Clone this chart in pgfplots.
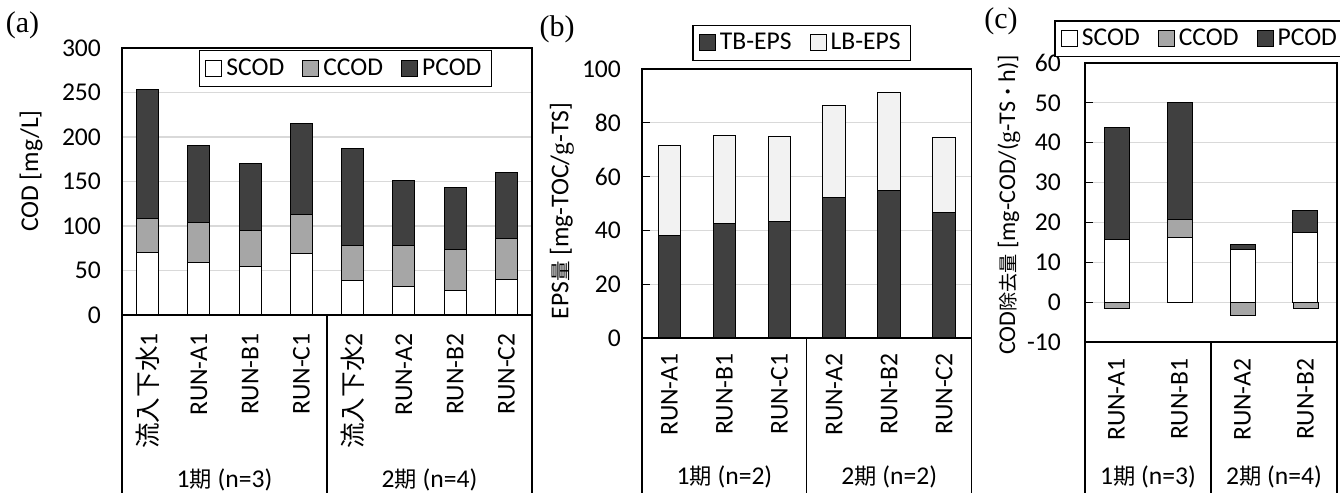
\documentclass[border=0pt]{standalone}
\usepackage{pgfplots}
\pgfplotsset{compat=1.18}
\usepackage{fontspec}
\setmainfont{Carlito}
\newfontfamily\jp{Noto Sans CJK JP}
\newfontfamily\jps{Noto Sans CJK JP}[Scale=0.8]
\newfontfamily\jpm{Noto Sans CJK JP}[Scale=0.87]
\newfontfamily\serif{Liberation Serif}

\definecolor{dark}{HTML}{404040}
\definecolor{mid}{HTML}{A6A6A6}
\definecolor{light}{HTML}{F2F2F2}
\definecolor{gridc}{HTML}{D9D9D9}

\newcommand{\fs}{\fontsize{12.8}{15}\selectfont}

\pgfplotsset{
  mystyle/.style={
    scale only axis,
    anchor=south west,
    ybar stacked,
    axis line style={black, line width=0.6pt},
    ymajorgrids, grid style={gridc, line width=0.6pt},
    xtick=data,
    xtick style={draw=none},
    ytick pos=left,
    major tick length=4pt,
    enlarge x limits=false,
    tick label style={font=\fs},
    /pgf/number format/assume math mode=true,
    xticklabel style={rotate=90, anchor=east, inner sep=0pt},
    yticklabel shift=7pt,
    label style={font=\fs},
    legend style={draw=black, line width=0.6pt, fill=white,
      font=\fs, legend columns=-1,
      /tikz/every even column/.append style={column sep=7pt},
      inner xsep=3pt, inner ysep=2pt, anchor=center},
    legend image code/.code={\draw[##1, line width=0.5pt] (0pt,-4pt) rectangle (8pt,4pt);},
    every axis plot/.append style={draw=black, line width=0.5pt},
  }
}

\begin{document}
\begin{tikzpicture}
\useasboundingbox (0,0) rectangle (670pt,246.5pt);

% ---------------- (a) ----------------
\begin{axis}[mystyle,
  at={(61pt,89pt)}, width=205pt, height=133.5pt, bar width=11pt,
  xmin=-0.5, xmax=7.5, ymin=0, ymax=300, ytick={0,50,...,300},
  ytick style={draw=none},
  xticklabels={{\jp 流入下水}1, RUN-A1, RUN-B1, RUN-C1, {\jp 流入下水}2, RUN-A2, RUN-B2, RUN-C2},
  xticklabel shift=9pt,
  ylabel={COD [mg/L]},
  ylabel style={at={(axis description cs:-0.222,0.539)}, anchor=center},
  legend style={at={(axis description cs:0.545,0.923)}}]
\addplot[fill=white] coordinates {(0,70) (1,59) (2,54) (3,69) (4,39) (5,32) (6,27) (7,40)};
\addplot[fill=mid] coordinates {(0,38) (1,45) (2,41) (3,43.5) (4,39) (5,46) (6,47) (7,45.5)};
\addplot[fill=dark] coordinates {(0,145) (1,86) (2,75) (3,102.5) (4,109) (5,73) (6,69) (7,74.5)};
\legend{SCOD, CCOD, PCOD}
\end{axis}

% ---------------- (b) ----------------
\begin{axis}[mystyle,
  at={(321pt,77.5pt)}, width=164.75pt, height=134.5pt, bar width=11.25pt,
  xmin=-0.5, xmax=5.5, ymin=0, ymax=100, ytick={0,20,...,100},
  ytick style={draw=black, line width=0.6pt},
  xticklabels={RUN-A1, RUN-B1, RUN-C1, RUN-A2, RUN-B2, RUN-C2},
  xticklabel shift=7.5pt,
  ylabel={EPS{\jps 量} [mg-TOC/{\serif g}-TS]},
  ylabel style={at={(axis description cs:-0.243,0.472)}, anchor=center},
  legend style={at={(axis description cs:0.485,1.097)}}]
\addplot[fill=dark] coordinates {(0,38.1) (1,42.7) (2,43.2) (3,52.2) (4,54.7) (5,46.7)};
\addplot[fill=light] coordinates {(0,33.6) (1,32.6) (2,31.6) (3,34.2) (4,36.6) (5,27.7)};
\legend{TB-EPS, LB-EPS}
\end{axis}

% ---------------- (c) ----------------
\begin{axis}[mystyle,
  at={(542.5pt,75.5pt)}, width=126pt, height=139.5pt, bar width=12.5pt,
  xmin=-0.5, xmax=3.5, ymin=-10, ymax=60, ytick={-10,0,...,60},
  ytick style={draw=black, line width=0.6pt},
  xticklabels={RUN-A1, RUN-B1, RUN-A2, RUN-B2},
  xticklabel shift=8pt,
  yticklabel shift=8.5pt,
  ylabel={\fontsize{12}{14}\selectfont COD{\jps 除去量} [mg-COD/({\serif g}-TS{\jps ・}h)]},
  ylabel style={at={(axis description cs:-0.302,0.491)}, anchor=center},
  legend style={at={(axis description cs:0.46,1.087)}}]
\addplot[fill=white] coordinates {(0,15.8) (1,16.1) (2,13.1) (3,17.4)};
\addplot[fill=mid] coordinates {(0,0) (1,4.7) (2,0) (3,0)};
\addplot[fill=dark] coordinates {(0,28.0) (1,29.4) (2,1.3) (3,5.5)};
\legend{SCOD, CCOD, PCOD}
\end{axis}
% negative CCOD parts, drawn below zero on an overlaid axis with the same geometry
\begin{axis}[
  scale only axis, anchor=south west, hide axis,
  at={(542.5pt,75.5pt)}, width=126pt, height=139.5pt,
  ybar, bar width=12.5pt, bar shift=0pt,
  xmin=-0.5, xmax=3.5, ymin=-10, ymax=60]
\addplot[draw=black, line width=0.5pt, fill=mid] coordinates {(0,-1.7) (2,-3.3) (3,-1.7)};
\end{axis}

% group boxes below the axes
\begin{scope}[line width=0.6pt]
\draw (61pt,0) -- (61pt,89pt);
\draw (163.5pt,0) -- (163.5pt,89pt);
\draw (266pt,0) -- (266pt,89pt);
\draw (321pt,0) -- (321pt,77.5pt);
\draw (403.4pt,0) -- (403.4pt,77.5pt);
\draw (485.75pt,0) -- (485.75pt,77.5pt);
\draw (542.5pt,0) -- (542.5pt,75.5pt);
\draw (605.5pt,0) -- (605.5pt,75.5pt);
\draw (668.5pt,0) -- (668.5pt,75.5pt);
\end{scope}

\begin{scope}[every node/.style={font=\fs, inner sep=0pt}]
\node at (112.25pt,6.6pt) {1{\jpm 期} (n=3)};
\node at (214.75pt,6.6pt) {2{\jpm 期} (n=4)};
\node at (362.2pt,8pt) {1{\jpm 期} (n=2)};
\node at (444.6pt,8pt) {2{\jpm 期} (n=2)};
\node at (574pt,8pt) {1{\jpm 期} (n=3)};
\node at (637pt,8pt) {2{\jpm 期} (n=4)};
\end{scope}

\begin{scope}[every node/.style={font=\serif\fontsize{15}{17}\selectfont, inner sep=0pt}]
\node at (11.25pt,234pt) {(a)};
\node at (278.5pt,232pt) {(b)};
\node at (500.5pt,236pt) {(c)};
\end{scope}

\end{tikzpicture}
\end{document}
